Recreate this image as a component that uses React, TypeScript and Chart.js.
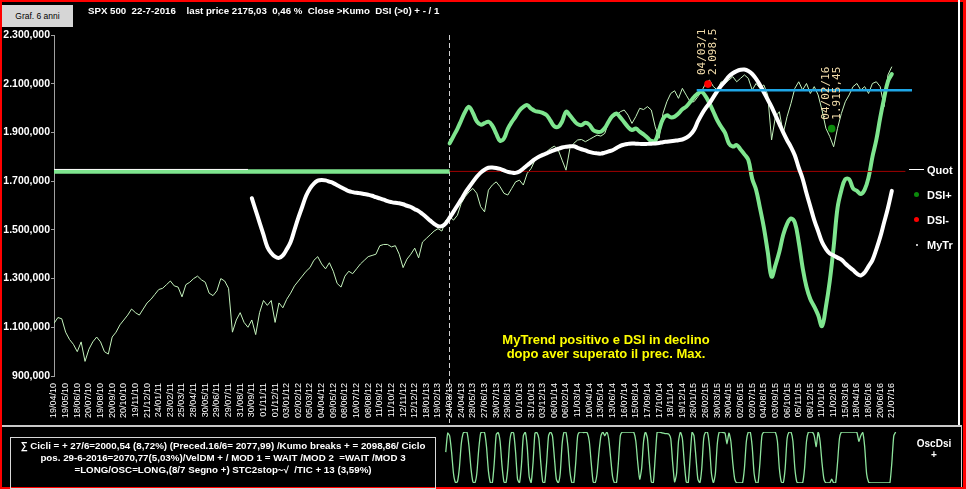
import React, { useEffect, useRef } from 'react';
import { Chart, registerables } from 'chart.js';

Chart.register(...registerables);

// ---------- DATA ----------
const dateLabels = [
  '19/04/10','19/05/10','18/06/10','20/07/10','19/08/10','20/09/10','20/10/10','19/11/10','21/12/10',
  '24/01/11','23/02/11','25/03/11','28/04/11','30/05/11','29/06/11','29/07/11','31/08/11','30/09/11','01/11/11','01/12/11',
  '03/01/12','02/02/12','05/03/12','04/04/12','09/05/12','08/06/12','10/07/12','08/08/12','11/09/12','11/10/12','12/11/12','12/12/12',
  '18/01/13','19/02/13','24/03/13','24/04/13','28/05/13','27/06/13','30/07/13','29/08/13','01/10/13','31/10/13','03/12/13',
  '06/01/14','06/02/14','11/03/14','10/04/14','13/05/14','13/06/14','16/07/14','15/08/14','17/09/14','17/10/14','18/11/14','19/12/14',
  '26/01/15','26/02/15','30/03/15','30/04/15','02/06/15','02/07/15','04/08/15','03/09/15','06/10/15','05/11/15','08/12/15',
  '11/01/16','11/02/16','15/03/16','18/04/16','18/05/16','20/06/16','21/07/16'
];
const pointsPerLabel = 3;

// Quot (price), one value per step (3 steps per date label)
const priceValues = [
  1116,1140,1135,1080,1050,1030,1000,1040,960,1010,
  1040,1060,1040,1000,990,1060,1080,1110,1130,1150,
  1175,1160,1150,1175,1200,1215,1235,1255,1260,1275,
  1290,1270,1265,1225,1275,1285,1300,1310,1295,1285,
  1240,1230,1250,1300,1290,1260,1080,1130,1160,1120,
  1100,1130,1070,1160,1210,1190,1210,1120,1200,1180,
  1215,1240,1270,1290,1310,1330,1345,1375,1390,1360,
  1340,1365,1330,1280,1265,1310,1330,1320,1340,1360,
  1375,1390,1395,1400,1435,1440,1440,1430,1435,1400,
  1345,1380,1400,1425,1385,1450,1465,1480,1495,1505,
  1495,1540,1554,1540,1560,1609,1636,1656,1670,1650,
  1595,1574,1663,1684,1697,1677,1650,1643,1670,1697,
  1704,1684,1732,1752,1786,1800,1800,1821,1834,1844,
  1828,1786,1745,1834,1855,1869,1871,1862,1871,1880,
  1889,1885,1896,1944,1962,1971,1985,1992,1971,1937,
  1965,1999,1994,2006,1992,1923,1876,1978,2026,2060,
  2071,2040,2081,2053,2026,2026,2047,2070,2101,2115,
  2088,2074,2108,2101,2115,2129,2108,2122,2136,2122,
  2074,2101,2081,2095,2054,1869,1965,1985,1896,1965,
  2019,2081,2108,2074,2101,2060,2088,2054,1992,1917,
  1883,1841,1917,1978,2026,2054,2088,2101,2074,2088,
  2060,2101,2108,2088,2006,2136,2170
];

// DSI line: flat base level, then the curve from dsiStart
const dsiBaseLevel = 1740;
const dsiStart = 102;
const dsiValues = [
  1855,1885,1915,1950,1985,2005,1980,1945,1932,1938,
  1944,1928,1895,1866,1875,1915,1942,1965,1990,2005,
  2012,1998,1988,1985,1980,1971,1948,1925,1923,1945,
  1985,1970,1950,1934,1930,1940,1932,1910,1903,1903,
  1918,1945,1968,1978,1962,1942,1922,1910,1916,1903,
  1892,1878,1865,1865,1910,1955,1970,1962,1965,1978,
  1995,2006,2025,2045,2060,2066,2048,2019,1985,1950,
  1923,1898,1855,1842,1848,1830,1810,1787,1710,1665,
  1590,1510,1410,1308,1355,1410,1480,1525,1547,1530,
  1450,1345,1265,1215,1185,1150,1105,1184,1290,1430,
  1590,1663,1708,1708,1670,1660,1647,1665,1715,1800,
  1869,1960,2040,2110,2140
];

// MyTr: flat placeholder level, then the curve from myTrStart
const myTrFlatLevel = 1748;
const myTrFlatEnd = 50;
const myTrStart = 51;
const myTrValues = [
  1630,1580,1530,1480,1430,1405,1390,1385,1395,1420,
  1450,1500,1550,1595,1640,1670,1690,1702,1705,1703,
  1698,1692,1683,1675,1667,1659,1655,1652,1650,1647,
  1644,1640,1634,1629,1624,1618,1614,1611,1609,1605,
  1599,1594,1585,1577,1565,1552,1538,1525,1515,1515,
  1527,1550,1575,1600,1625,1652,1675,1697,1718,1735,
  1747,1755,1756,1754,1750,1744,1738,1735,1734,1740,
  1752,1765,1778,1790,1800,1808,1814,1821,1827,1833,
  1838,1841,1843,1843,1837,1831,1826,1820,1816,1814,
  1813,1817,1822,1827,1836,1845,1850,1853,1855,1854,
  1853,1852,1853,1854,1855,1857,1860,1862,1864,1866,
  1868,1871,1878,1890,1910,1945,1975,2000,2020,2045,
  2070,2092,2110,2130,2143,2152,2157,2158,2152,2140,
  2120,2095,2065,2035,2005,1970,1935,1900,1868,1840,
  1805,1755,1710,1650,1595,1540,1495,1450,1422,1403,
  1395,1386,1378,1362,1348,1335,1320,1313,1325,1350,
  1376,1420,1470,1530,1590,1660
];

// Kumo level (cyan) and reference level (dark red)
const kumoLevel = 2073;
const kumoFrom = 165.7;
const kumoTo = 221.2;
const refLevelTo = 219.5;

// signals
const dsiMinusPoint = { x: 168.6, y: 2098.5, lines: ['04/03/1', '2.098,5'] };
const dsiPlusPoint = { x: 200.5, y: 1915.45, lines: ['04/02/16', '1.915,45'] };

const xMax = 221.2;
const yMin = 900;
const yMax = 2300;
const yStep = 200;

// OscDsi oscillator (bottom panel), steps of half a point from oscStart
const oscStart = 101;
const oscStep = 0.5;
const oscValues = [
  60,95,90,60,20,4,5,30,75,95,97,96,70,30,5,3,20,65,95,97,
  96,70,25,4,3,40,92,96,80,35,5,3,30,80,97,95,60,10,3,35,
  90,97,70,15,3,40,95,96,85,40,5,3,40,90,97,90,50,10,3,20,
  75,97,96,70,25,4,3,40,90,97,97,96,97,95,80,40,5,3,20,60,
  90,97,90,97,85,50,15,3,3,40,90,97,97,97,97,97,97,96,80,40,
  10,30,80,97,85,40,5,3,50,97,97,96,95,94,94,93,85,40,5,20,
  80,97,85,40,5,3,50,97,90,50,10,3,30,85,97,96,70,20,3,20,
  75,97,97,96,95,75,95,80,40,10,3,3,3,3,30,80,97,97,70,20,
  3,3,40,90,97,97,97,97,97,97,96,80,30,5,3,30,85,97,97,80,
  30,5,3,3,3,30,80,97,97,97,90,70,97,80,40,10,3,3,3,10,
  3,3,40,85,97,97,97,97,97,97,97,97,96,80,90,96,70,20,5,3,
  3,3,3,3,3,3,3,3,3,3,40,90,97
];

const legendItems = [
  { label: 'Quot', kind: 'line', color: '#ffffff' },
  { label: 'DSI+', kind: 'dot', color: '#0b8a0b' },
  { label: 'DSI-', kind: 'dot', color: '#ff0000' },
  { label: 'MyTr', kind: 'tiny', color: '#ffffff' },
];

const boxLines = [
  '∑ Cicli = + 27/6=2000,54 (8,72%) (Preced.16/6= 2077,99) /Kumo breaks + = 2098,86/ Ciclo',
  'pos. 29-6-2016=2070,77(5,03%)/VelDM + / MOD 1 = WAIT /MOD 2  =WAIT /MOD 3',
  '=LONG/OSC=LONG,(8/7 Segno +) STC2stop~√  /TIC + 13 (3,59%)',
];

const titleText = 'SPX 500  22-7-2016    last price 2175,03  0,46 %  Close >Kumo  DSI (>0) + - / 1';

// ---------- HELPERS ----------
const FONT = '"Liberation Sans", Arial, sans-serif';

function fmtY(v: number): string {
  const s = String(Math.round(v)).replace(/\B(?=(\d{3})+(?!\d))/g, '.');
  return s + ',000';
}

const overlayPlugin = {
  id: 'overlay',
  beforeDatasetsDraw(chart: any) {
    const { ctx, chartArea, scales } = chart;
    const dx = Math.round(scales.x.getPixelForValue(dsiStart)) - 0.5;
    ctx.save();
    ctx.strokeStyle = '#d0d0d0';
    ctx.lineWidth = 1;
    ctx.setLineDash([5, 3]);
    ctx.beginPath();
    ctx.moveTo(dx, chartArea.top);
    ctx.lineTo(dx, chartArea.bottom + 47);
    ctx.stroke();
    ctx.restore();
  },
  afterDatasetsDraw(chart: any) {
    const { ctx, scales } = chart;
    for (const a of [dsiMinusPoint, dsiPlusPoint]) {
      const px = scales.x.getPixelForValue(a.x);
      const py = scales.y.getPixelForValue(a.y);
      ctx.save();
      ctx.translate(px, py - 9);
      ctx.rotate(-Math.PI / 2);
      ctx.fillStyle = '#f2dcaa';
      ctx.font = '11px "DejaVu Sans Mono", monospace';
      ctx.textAlign = 'left';
      ctx.textBaseline = 'middle';
      ctx.fillText(a.lines[0], 0, -5.5);
      ctx.fillText(a.lines[1], 0, 5.5);
      ctx.restore();
    }
  },
};

export default function App() {
  const mainRef = useRef<HTMLCanvasElement>(null);
  const oscRef = useRef<HTMLCanvasElement>(null);

  useEffect(() => {
    if (!mainRef.current || !oscRef.current) return;

    const priceData = priceValues.map((v, i) => ({ x: i, y: v }));
    const dsiData = dsiValues.map((v, i) => ({ x: dsiStart + i, y: v }));
    const myTrData = myTrValues.map((v, i) => ({ x: myTrStart + i, y: v }));

    const main = new Chart(mainRef.current, {
      type: 'line',
      data: {
        datasets: [
          {
            label: 'DSI-', data: [{ x: dsiMinusPoint.x, y: dsiMinusPoint.y }], showLine: false,
            pointRadius: 3.8, pointBackgroundColor: '#ff0000', pointBorderWidth: 0, order: 0,
          },
          {
            label: 'DSI+', data: [{ x: dsiPlusPoint.x, y: dsiPlusPoint.y }], showLine: false,
            pointRadius: 3.8, pointBackgroundColor: '#0b8a0b', pointBorderWidth: 0, order: 0,
          },
          {
            label: 'Kumo', data: [{ x: kumoFrom, y: kumoLevel }, { x: kumoTo, y: kumoLevel }],
            borderColor: '#1ea6e6', borderWidth: 2.5, pointRadius: 0, order: 1,
          },
          {
            label: 'MyTr', data: myTrData, borderColor: '#ffffff', borderWidth: 4, pointRadius: 0,
            tension: 0.4, borderCapStyle: 'round', borderJoinStyle: 'round', order: 2,
          },
          {
            label: 'Ref', data: [{ x: dsiStart, y: dsiBaseLevel }, { x: refLevelTo, y: dsiBaseLevel }],
            borderColor: '#a00000', borderWidth: 1, pointRadius: 0, order: 3,
          },
          {
            label: 'DSI', data: dsiData, borderColor: '#7ee58e', borderWidth: 4, pointRadius: 0,
            tension: 0.4, borderCapStyle: 'round', borderJoinStyle: 'round', order: 4,
          },
          {
            label: 'Quot', data: priceData, borderColor: '#c4f2bc', borderWidth: 1, pointRadius: 0,
            tension: 0, order: 5,
          },
          {
            label: 'MyTrFlat', data: [{ x: 0, y: myTrFlatLevel }, { x: myTrFlatEnd, y: myTrFlatLevel }],
            borderColor: '#ffffff', borderWidth: 1, pointRadius: 0, order: 6,
          },
          {
            label: 'DSIBase', data: [{ x: 0, y: dsiBaseLevel }, { x: dsiStart, y: dsiBaseLevel }],
            borderColor: '#7ee58e', borderWidth: 4.5, pointRadius: 0, order: 7,
          },
        ],
      },
      options: {
        animation: false,
        responsive: false,
        layout: { padding: { top: 35, right: 54, left: 0, bottom: 0 } },
        plugins: { legend: { display: false }, tooltip: { enabled: false }, title: { display: false } },
        scales: {
          x: {
            type: 'linear',
            min: 0,
            max: xMax,
            grid: { display: false, drawTicks: false },
            border: { display: false },
            afterBuildTicks: (s: any) => {
              s.ticks = dateLabels.map((_, i) => ({ value: i * pointsPerLabel }));
            },
            afterFit: (s: any) => { s.height = 49; },
            ticks: {
              autoSkip: false,
              minRotation: 90,
              maxRotation: 90,
              padding: 7,
              color: '#ffffff',
              font: { family: FONT, size: 9 },
              callback: (v: any) => dateLabels[Math.round(Number(v) / pointsPerLabel)] ?? '',
            },
          },
          y: {
            min: yMin,
            max: yMax,
            afterFit: (s: any) => { s.width = 54; },
            grid: { drawOnChartArea: false, drawTicks: true, tickLength: 3, color: '#a0a0a0' },
            border: { display: true, color: '#a0a0a0', width: 1 },
            ticks: {
              stepSize: yStep,
              padding: 1,
              color: '#ffffff',
              font: { family: FONT, size: 10.5, weight: 'bold' },
              callback: (v: any) => fmtY(Number(v)),
            },
          },
        },
      },
      plugins: [overlayPlugin],
    } as any);

    const oscData = oscValues.map((v, i) => ({ x: oscStart + i * oscStep, y: v }));
    const osc = new Chart(oscRef.current, {
      type: 'line',
      data: {
        datasets: [
          { label: 'OscDsi', data: oscData, borderColor: '#8de49c', borderWidth: 1.3, pointRadius: 0, tension: 0.2 },
        ],
      },
      options: {
        animation: false,
        responsive: false,
        layout: { padding: { top: 4, bottom: 4, left: 54, right: 54 } },
        plugins: { legend: { display: false }, tooltip: { enabled: false } },
        scales: {
          x: { type: 'linear', min: 0, max: xMax, display: false },
          y: { min: 3, max: 97, display: false },
        },
      },
    } as any);

    return () => {
      main.destroy();
      osc.destroy();
    };
  }, []);

  const abs = (s: React.CSSProperties): React.CSSProperties => ({ position: 'absolute', ...s });

  return (
    <div style={{ position: 'fixed', left: 0, top: 0, width: 966, height: 489, background: '#000', overflow: 'hidden', fontFamily: FONT }}>
      <canvas ref={mainRef} width={966} height={425} style={abs({ left: 0, top: 0 })} />
      <canvas ref={oscRef} width={966} height={59} style={abs({ left: 0, top: 428 })} />

      {/* frame */}
      <div style={abs({ left: 0, top: 0, width: 966, height: 2, background: '#ff0000' })} />
      <div style={abs({ left: 0, top: 0, width: 2, height: 489, background: '#ff0000' })} />
      <div style={abs({ left: 963, top: 0, width: 3, height: 489, background: '#ff0000' })} />
      <div style={abs({ left: 0, top: 487, width: 966, height: 2, background: '#ff0000' })} />
      <div style={abs({ left: 958, top: 0, width: 2, height: 425, background: '#ffffff' })} />
      <div style={abs({ left: 2, top: 425, width: 959, height: 2, background: '#c8c8c8' })} />
      <div style={abs({ left: 961, top: 425, width: 1, height: 62, background: '#d0d0d0' })} />

      {/* button */}
      <div style={abs({ left: 2, top: 5, width: 71, height: 22, background: '#d6d6d6', color: '#000', fontSize: 8.5, lineHeight: '22px', textAlign: 'center' })}>
        Graf. 6 anni
      </div>

      {/* title */}
      <div style={abs({ left: 88, top: 5, color: '#fff', fontSize: 9.7, fontWeight: 'bold', whiteSpace: 'pre', lineHeight: '12px' })}>
        {titleText}
      </div>

      {/* legend */}
      {legendItems.map((it, i) => {
        const cy = 169.5 + i * 25;
        return (
          <React.Fragment key={it.label}>
            {it.kind === 'line' && <div style={abs({ left: 909, top: cy - 1, width: 15, height: 1.5, background: it.color })} />}
            {it.kind === 'dot' && <div style={abs({ left: 914, top: cy - 2.5, width: 5, height: 5, borderRadius: '50%', background: it.color })} />}
            {it.kind === 'tiny' && <div style={abs({ left: 916, top: cy - 1, width: 2, height: 2, borderRadius: '50%', background: it.color })} />}
            <div style={abs({ left: 927, top: cy - 7, color: '#fff', fontSize: 11, fontWeight: 'bold', lineHeight: '14px', whiteSpace: 'pre' })}>
              {it.label}
            </div>
          </React.Fragment>
        );
      })}

      {/* info box */}
      <div style={abs({ left: 10, top: 437, width: 424, height: 48, border: '1px solid #d8d8d8', color: '#fff', fontSize: 9.75, fontWeight: 'bold', textAlign: 'center', lineHeight: '12px', paddingTop: 2, boxSizing: 'content-box' })}>
        {boxLines.map((l) => (
          <div key={l} style={{ whiteSpace: 'pre' }}>{l}</div>
        ))}
      </div>

      {/* osc label */}
      <div style={abs({ left: 905, top: 438, width: 58, color: '#fff', fontSize: 10, fontWeight: 'bold', textAlign: 'center', lineHeight: '11px' })}>
        OscDsi<br />+
      </div>

      {/* annotation text */}
      <div style={abs({ left: 456, top: 333, width: 300, color: '#ffff00', fontSize: 13, fontWeight: 'bold', textAlign: 'center', lineHeight: '13.5px' })}>
        MyTrend positivo e DSI in declino<br />dopo aver superato il prec. Max.
      </div>
    </div>
  );
}
